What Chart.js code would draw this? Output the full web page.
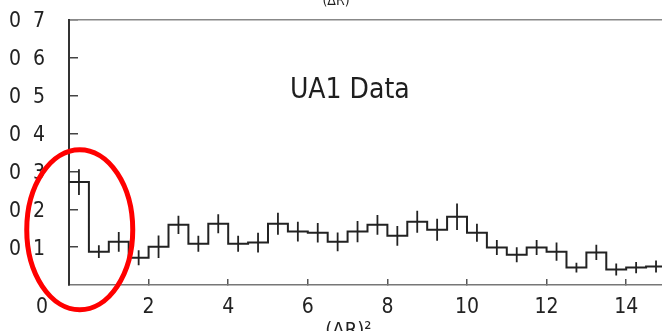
<!DOCTYPE html>
<html>
<head>
<meta charset="utf-8">
<script src="https://cdn.jsdelivr.net/npm/chart.js@4.4.1/dist/chart.umd.min.js"></script>
<style>
  html, body { margin: 0; padding: 0; background: #fff; }
  #wrap { width: 662px; height: 331px; position: relative; }
</style>
</head>
<body>
<div id="wrap"><canvas id="c"></canvas></div>
<script>
// (ΔR)^2 bin edges, 0.5 wide
const binEdges = [0, 0.5, 1, 1.5, 2, 2.5, 3, 3.5, 4, 4.5, 5, 5.5, 6, 6.5, 7, 7.5,
                  8, 8.5, 9, 9.5, 10, 10.5, 11, 11.5, 12, 12.5, 13, 13.5, 14, 14.5, 15];
// Normalised entries per bin
const binCounts = [0.272, 0.088, 0.114, 0.072, 0.101, 0.159, 0.109, 0.162, 0.109, 0.112,
                   0.162, 0.141, 0.138, 0.114, 0.141, 0.159, 0.130, 0.167, 0.146, 0.180,
                   0.138, 0.099, 0.080, 0.099, 0.088, 0.046, 0.086, 0.041, 0.046, 0.049];
// Statistical error per bin
const binErrors = [0.034, 0.017, 0.026, 0.020, 0.030, 0.024, 0.021, 0.025, 0.021, 0.026,
                   0.029, 0.026, 0.026, 0.025, 0.028, 0.026, 0.026, 0.029, 0.029, 0.035,
                   0.024, 0.020, 0.020, 0.020, 0.024, 0.013, 0.020, 0.016, 0.015, 0.016];

const xTickValues = [0, 2, 4, 6, 8, 10, 12, 14];
const xTickLabels = ['0', '2', '4', '6', '8', '10', '12', '14'];
const yTickValues = [0.1, 0.2, 0.3, 0.4, 0.5, 0.6, 0.7];
const yTickLabels = ['0  1', '0  2', '0  3', '0  4', '0  5', '0  6', '0  7'];

const xTitle = '(\u0394R)\u00B2';
const topCaption = '(\u0394R)';
const panelLabel = 'UA1 Data';

const INK = '#222';
const TICK_FONT = "'DejaVu Sans Condensed', 'DejaVu Sans', sans-serif";
const TEXT_FONT = "'DejaVu Sans Condensed', 'DejaVu Sans', sans-serif";

// histogram outline: one point per lower edge plus the closing edge
const stepPoints = binEdges.map((x, i) => ({ x, y: binCounts[Math.min(i, binCounts.length - 1)] }));

// vertical error bars at bin centres, separated by gaps
const errorPoints = [];
binCounts.forEach((v, i) => {
  const c = (binEdges[i] + binEdges[i + 1]) / 2;
  errorPoints.push({ x: c, y: v - binErrors[i] });
  errorPoints.push({ x: c, y: v + binErrors[i] });
  errorPoints.push({ x: c, y: null });
});

// origin label sits left of the corner, so it is padded on the right
const originPad = '\u00A0'.repeat(9);
// axis title is nudged left of the axis centre the same way
const titlePad = '\u00A0'.repeat(6);

const decorations = {
  id: 'decorations',
  afterDatasetsDraw(chart) {
    const { ctx, scales: { x, y } } = chart;
    ctx.save();
    ctx.fillStyle = '#1e1e1e';
    ctx.font = "28px " + TEXT_FONT;
    ctx.textBaseline = 'alphabetic';
    ctx.textAlign = 'left';
    ctx.fillText(panelLabel, x.getPixelForValue(5.55), y.getPixelForValue(0.493));

    ctx.font = "14px " + TEXT_FONT;
    ctx.textAlign = 'center';
    ctx.fillText(topCaption, 336, 5);
    ctx.restore();
  },
  afterDraw(chart) {
    const { ctx, scales: { x, y } } = chart;
    ctx.save();
    ctx.strokeStyle = '#ff0000';
    ctx.lineWidth = 5;
    ctx.beginPath();
    ctx.ellipse(x.getPixelForValue(0.27), y.getPixelForValue(0.146), 53, 80, 0, 0, Math.PI * 2);
    ctx.stroke();
    ctx.restore();
  }
};

new Chart(document.getElementById('c'), {
  type: 'line',
  data: {
    datasets: [
      {
        data: stepPoints,
        stepped: 'before',
        borderColor: INK,
        borderWidth: 2,
        pointRadius: 0,
        fill: false
      },
      {
        data: errorPoints,
        borderColor: INK,
        borderWidth: 1.8,
        pointRadius: 0,
        spanGaps: false,
        fill: false
      }
    ]
  },
  options: {
    responsive: true,
    maintainAspectRatio: false,
    animation: false,
    devicePixelRatio: 1,
    layout: { padding: { top: 20, right: 0, left: 9, bottom: 0 } },
    plugins: { legend: { display: false }, tooltip: { enabled: false }, title: { display: false } },
    scales: {
      x: {
        type: 'linear',
        position: 'bottom',
        min: 0,
        max: 14.9,
        afterBuildTicks: s => { s.ticks = xTickValues.map(v => ({ value: v })); },
        afterFit: s => { s.height = 46; },
        ticks: {
          autoSkip: false,
          maxRotation: 0,
          padding: 16,
          color: INK,
          font: { family: TICK_FONT, size: 21 },
          callback: v => {
            const label = xTickLabels[xTickValues.indexOf(v)];
            return v === 0 ? label + originPad : label;
          }
        },
        grid: { display: true, drawOnChartArea: false, drawTicks: true, tickLength: -6, color: '#555', lineWidth: 1.5 },
        border: { display: true, color: '#777', width: 1.5 },
        title: {
          display: true,
          text: xTitle + titlePad,
          color: INK,
          font: { family: TEXT_FONT, size: 20 },
          padding: { top: 0, bottom: -12 }
        }
      },
      xTop: {
        type: 'linear',
        position: 'top',
        min: 0,
        max: 14.9,
        afterFit: s => { s.height = 0; },
        ticks: { display: false },
        grid: { display: false },
        border: { display: true, color: '#888', width: 1.5 }
      },
      y: {
        type: 'linear',
        position: 'left',
        min: 0,
        max: 0.7,
        afterBuildTicks: s => { s.ticks = yTickValues.map(v => ({ value: v })); },
        afterFit: s => { s.width = 60; },
        ticks: {
          autoSkip: false,
          crossAlign: 'far',
          padding: 0,
          labelOffset: 2,
          color: INK,
          font: { family: TICK_FONT, size: 21 },
          callback: v => yTickLabels[yTickValues.findIndex(t => Math.abs(t - v) < 1e-9)]
        },
        grid: { display: true, drawOnChartArea: false, drawTicks: true, tickLength: -9, color: '#444', lineWidth: 1.5 },
        border: { display: true, color: '#333', width: 2 }
      }
    }
  },
  plugins: [decorations]
});
</script>
</body>
</html>
